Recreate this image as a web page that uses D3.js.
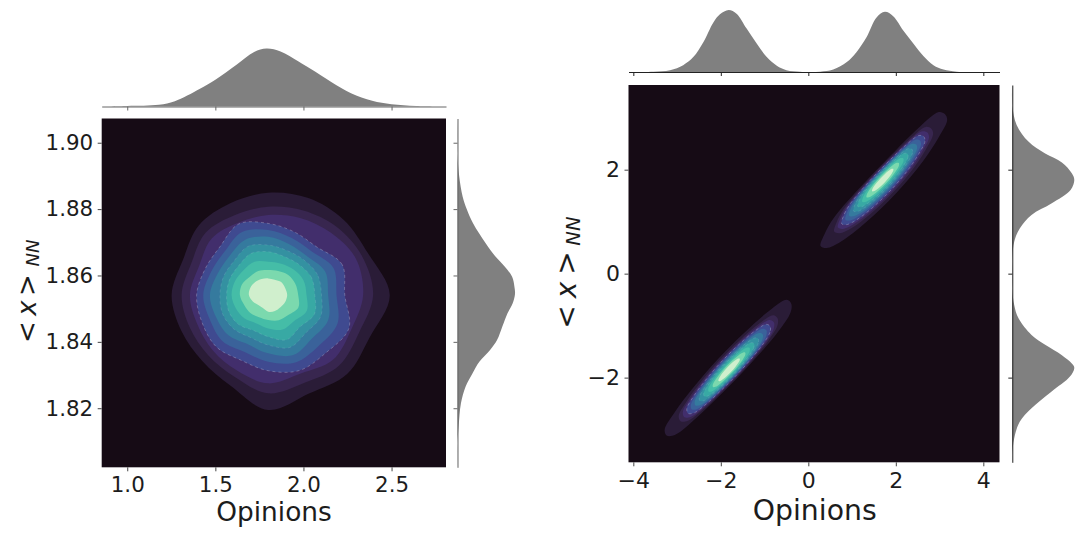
<!DOCTYPE html>
<html><head><meta charset="utf-8">
<script src="https://cdn.jsdelivr.net/npm/d3@7"></script>
<style>html,body{margin:0;padding:0;background:#fff}svg{display:block}text{font-family:"DejaVu Sans";fill:#1c1c1c}</style>
</head><body><svg id="c" width="1076" height="553"></svg>
<script>
// ---- data ----
const leftXTicks=[1.0,1.5,2.0,2.5];
const leftYTicks=[1.82,1.84,1.86,1.88,1.90];
const rightXTicks=[-4,-2,0,2,4];
const rightYTicks=[-2,0,2];
const levelColors=["#2a1c37","#38264f","#422e6c","#3f4a90","#3a629a","#357a9e","#3491a1","#38a9a4","#45bda7","#7bd9ae","#d0efcd"];
// left marginals
const leftTopX=[0.855,1.0,1.18,1.27,1.41,1.50,1.62,1.72,1.79,1.87,1.97,2.04,2.16,2.27,2.39,2.50,2.64,2.809];
const leftTopD=[0,.01,.03,.09,.30,.46,.72,.94,1,.95,.78,.65,.42,.23,.10,.04,.01,0];
const leftSideY=[1.9073,1.8968,1.8898,1.8837,1.88,1.8757,1.8697,1.8657,1.8627,1.8596,1.8566,1.8544,1.8516,1.8486,1.8446,1.8406,1.8376,1.8340,1.8305,1.8265,1.8215,1.8145,1.8094,1.8022];
const leftSideD=[0,0,.03,.09,.16,.27,.49,.66,.82,.95,.99,1,.96,.87,.78,.69,.57,.38,.26,.14,.06,.02,0,0];
// right marginals
const rightTopX=[-4.11,-4.0,-3.54,-3.16,-2.86,-2.63,-2.40,-2.17,-2.02,-1.82,-1.64,-1.41,-1.18,-.95,-.72,-.50,-.19,0,.27,.57,.88,1.10,1.33,1.56,1.75,1.94,2.17,2.40,2.63,2.86,3.09,3.39,3.99,4.366];
const rightTopD=[0,0,.005,.03,.11,.24,.48,.80,.93,1,.94,.70,.46,.24,.10,.03,.005,0,.005,.04,.16,.32,.56,.88,.97,.90,.67,.46,.26,.11,.04,.005,0,0];
const rightSideY=[3.629,3.24,2.86,2.54,2.31,2.14,1.93,1.80,1.61,1.35,1.13,.87,.61,.23,-.28,-.60,-.86,-1.18,-1.37,-1.57,-1.73,-1.81,-1.98,-2.27,-2.59,-2.85,-3.17,-3.49,-3.629];
const rightSideD=[0,0,.07,.26,.53,.80,.96,1,.94,.63,.31,.12,.03,0,0,.03,.10,.31,.53,.80,.96,1,.93,.63,.31,.12,.03,0,0];
// left density contours: centre and radius per level at 16 compass bearings (E, ENE, NE ... ESE)
const leftCentre=[1.80,1.8541];
const leftRadiusUnit=[0.00189,0.0001004];
const leftContours=[
 [365,325,320,315,307,298,295,277,290,282,280,295,345,320,335,330],
 [315,305,290,275,265,260,265,250,260,255,255,265,295,285,300,295],
 [285,285,265,250,240,235,240,225,235,230,235,245,265,255,275,270],
 [230,240,205,205,215,231,205,205,215,215,220,212,227,245,245,262],
 [205,212,185,185,195,205,185,185,195,190,195,185,200,218,215,225],
 [180,185,165,165,175,180,165,165,175,170,170,160,175,195,185,195],
 [160,160,150,145,150,158,145,145,145,148,145,138,150,170,160,170],
 [140,140,130,125,130,135,125,125,125,128,125,115,125,145,135,150],
 [115,115,108,102,100,108,105,108,110,105,100,92,100,112,110,125],
 [90,88,85,78,75,78,78,85,85,78,76,72,75,82,85,98],
 [57,55,55,50,50,52,55,58,58,50,42,42,50,52,52,55]];
// right density contours: two lobes; spread along and across the lobe axis per level
const lobeCentres=[[1.70,1.80],[-1.81,-1.85]];
const lobeAlongVec=[1.42,1.27];
const lobeAcrossVec=[.24,-.19];
const lobeAlong=[1,.78,.72,.66,.6,.54,.47,.4,.33,.26,.17];
const lobeAcross=[1,.88,.8,.73,.66,.6,.53,.46,.38,.3,.2];
const lobeOutline=[
 [1.0,1.05,1.1,1.22,1.3,1.25,1.15,1.05,1.0,.95,.95,.85,.8,.82,.95,1.05],
 [1.0,1.0,.95,.85,.8,.8,.9,1.0,1.0,1.05,1.05,1.05,1.08,1.08,1.1,1.08]];
const dashedLevels=[3,6,7];

// ---- drawing ----
const svg=d3.select("#c");
const contourLine=d3.line().curve(d3.curveCatmullRomClosed.alpha(.5));
const bearings=d3.range(16).map(i=>i*Math.PI/8);

function panel(o){
 const x=d3.scaleLinear().domain(o.xd).range([o.l,o.r]);
 const y=d3.scaleLinear().domain(o.yd).range([o.b,o.t]);
 svg.append("rect").attr("x",o.l).attr("y",o.t).attr("width",o.r-o.l).attr("height",o.b-o.t).attr("fill","#160b15");
 const g=svg.append("g");
 o.contours.forEach(group=>group.forEach((pts,i)=>{
   const p=g.append("path").attr("d",contourLine(pts.map(d=>[x(d[0]),y(d[1])]))).attr("fill",levelColors[i]);
   if(dashedLevels.includes(i)) g.append("path").attr("d",p.attr("d")).attr("fill","none")
     .attr("stroke","#fff").attr("stroke-opacity",i==3?.4:.18).attr("stroke-width",.6).attr("stroke-dasharray","3 3");
 }));
 const ax=svg.append("g").attr("transform",`translate(0,${o.b})`)
   .call(d3.axisBottom(x).tickValues(o.xt).tickSize(4).tickFormat(o.xf));
 const ay=svg.append("g").attr("transform",`translate(${o.l},0)`)
   .call(d3.axisLeft(y).tickValues(o.yt).tickSize(4).tickFormat(o.yf));
 [ax,ay].forEach(a=>{a.select(".domain").remove();a.selectAll("line").attr("stroke","#444");
   a.selectAll("text").attr("font-size",o.fs).attr("font-family","DejaVu Sans").attr("fill","#1c1c1c");});
 ax.selectAll("text").attr("dy",0).attr("y",o.xLabelY-o.b);
 ay.selectAll("text").attr("x",-o.yPad);
 svg.append("text").attr("x",o.xTitle[0]).attr("y",o.xTitle[1]).attr("text-anchor","middle").attr("font-size",o.titleFs).text("Opinions");
 // rotated y title
 const yt=svg.append("text").attr("transform",`translate(${o.yTitle.base},0) rotate(-90)`).attr("font-size",o.yTitle.fs);
 yt.append("tspan").attr("x",-o.yTitle.p[0]).attr("y",0).attr("text-anchor","middle").text("<");
 yt.append("tspan").attr("x",-o.yTitle.p[1]).attr("y",0).attr("text-anchor","middle").attr("font-style","italic").text("x");
 yt.append("tspan").attr("x",-o.yTitle.p[2]).attr("y",0).attr("text-anchor","middle").text(">");
 yt.append("tspan").attr("x",-o.yTitle.p[3]).attr("y",o.yTitle.sub).attr("text-anchor","middle").attr("font-style","italic").attr("font-size",o.yTitle.fs*.7).text("NN");
 // top marginal
 const dTop=d3.scaleLinear().domain([0,1]).range([o.mTop.base,o.mTop.peak]);
 svg.append("path").attr("fill","#808080").attr("d",d3.area().curve(d3.curveCatmullRom.alpha(.5))
   .x(d=>x(d[0])).y0(dTop(0)).y1(d=>dTop(d[1]))(d3.zip(o.mTop.v,o.mTop.d)));
 const at=svg.append("g").attr("transform",`translate(0,${o.mTop.base})`)
   .call(d3.axisBottom(x).tickValues(o.xt).tickSize(4).tickSizeOuter(0).tickFormat(""));
 at.selectAll("path,line").attr("stroke",o.mColor);
 // side marginal
 const dSide=d3.scaleLinear().domain([0,1]).range([o.mSide.base,o.mSide.peak]);
 svg.append("path").attr("fill","#808080").attr("d",d3.area().curve(d3.curveCatmullRom.alpha(.5))
   .y(d=>y(d[0])).x0(dSide(0)).x1(d=>dSide(d[1]))(d3.zip(o.mSide.v,o.mSide.d)));
 const as=svg.append("g").attr("transform",`translate(${o.mSide.base},0)`)
   .call(d3.axisLeft(y).tickValues(o.yt).tickSize(4).tickSizeOuter(0).tickFormat(""));
 as.selectAll("path,line").attr("stroke",o.mColor);
}

const leftPolys=leftContours.map(radii=>radii.map((r,i)=>[
  leftCentre[0]+r*leftRadiusUnit[0]*Math.cos(bearings[i]),
  leftCentre[1]+r*leftRadiusUnit[1]*Math.sin(bearings[i])]));
const lobePolys=lobeCentres.map((c,k)=>lobeAlong.map((a,lv)=>bearings.map((t,i)=>{
  const m=1+(lobeOutline[k][i]-1)*lobeAcross[lv];
  const u=a*m*Math.cos(t), v=lobeAcross[lv]*m*Math.sin(t);
  return [c[0]+u*lobeAlongVec[0]+v*lobeAcrossVec[0], c[1]+u*lobeAlongVec[1]+v*lobeAcrossVec[1]];
})));

panel({l:101.7,r:446,t:118.5,b:467.3,xd:[.855,2.809],yd:[1.8022,1.9073],xt:leftXTicks,yt:leftYTicks,
 xf:d3.format(".1f"),yf:d3.format(".2f"),fs:21.4,titleFs:26.4,xLabelY:492,yPad:8.5,xTitle:[274,520.5],
 contours:[leftPolys],mColor:"#666",
 yTitle:{base:35.5,fs:26,p:[332,308,285,253],sub:3.4},
 mTop:{base:106.5,peak:48.5,v:leftTopX,d:leftTopD},mSide:{base:457.5,peak:515,v:leftSideY,d:leftSideD}});
panel({l:628.5,r:999.5,t:85,b:462.3,xd:[-4.11,4.37],yd:[-3.629,3.629],xt:rightXTicks,yt:rightYTicks,
 xf:d3.format("d"),yf:d3.format("d"),fs:22,titleFs:28.3,xLabelY:488.5,yPad:8.5,xTitle:[814.7,519.5],
 contours:lobePolys,mColor:"#222",
 yTitle:{base:576,fs:28,p:[317,290,263,231],sub:3.6},
 mTop:{base:72,peak:10,v:rightTopX,d:rightTopD},mSide:{base:1012.3,peak:1074.3,v:rightSideY,d:rightSideD}});
</script></body></html>
